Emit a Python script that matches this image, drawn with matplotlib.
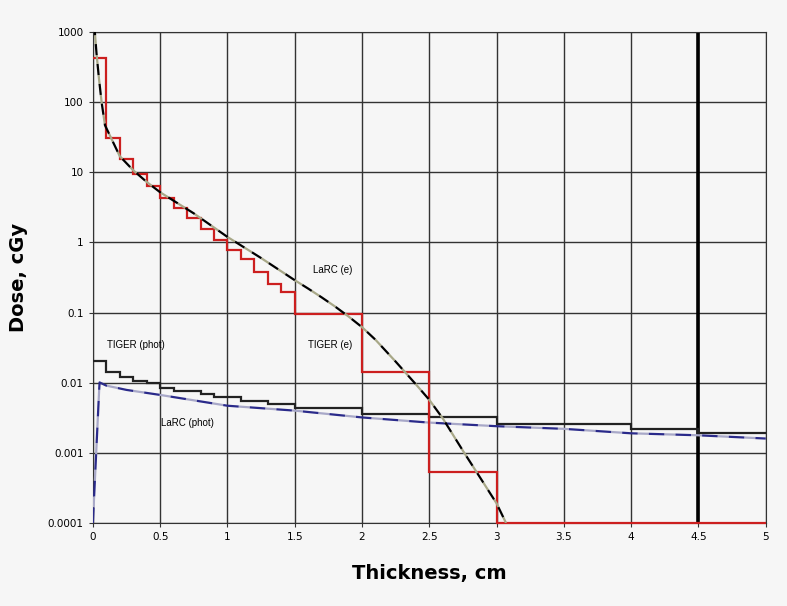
import numpy as np
import matplotlib
matplotlib.use("Agg")
import matplotlib.pyplot as plt
from matplotlib.ticker import FixedLocator, FixedFormatter

# TIGER (e) histogram: bin edges and dose per bin
tiger_e_edges = [0.0, 0.1, 0.2, 0.3, 0.4, 0.5, 0.6, 0.7, 0.8, 0.9, 1.0,
                 1.1, 1.2, 1.3, 1.4, 1.5, 2.0, 2.5, 3.0, 5.0]
tiger_e_dose = [430, 31, 15.5, 9.6, 6.3, 4.35, 3.1, 2.2, 1.55, 1.07,
                0.79, 0.59, 0.38, 0.26, 0.2, 0.095, 0.0144, 0.00054, 0.0001]

# TIGER (phot) histogram
tiger_p_edges = [0.0, 0.1, 0.2, 0.3, 0.4, 0.5, 0.6, 0.8, 0.9, 1.1, 1.3,
                 1.5, 2.0, 2.5, 3.0, 4.0, 4.5, 5.0]
tiger_p_dose = [0.0205, 0.0144, 0.0122, 0.0107, 0.0098, 0.0083, 0.0075,
                0.0069, 0.0062, 0.0055, 0.0049, 0.0043, 0.0036, 0.0032,
                0.0026, 0.0022, 0.0019]

# LaRC (e) curve
larc_e_x = [0.01, 0.027, 0.045, 0.065, 0.09, 0.2, 0.3, 0.4, 0.5, 0.75,
            1.0, 1.25, 1.5, 1.6, 1.7, 1.8, 1.9, 2.0, 2.1, 2.25, 2.4, 2.5,
            2.6, 2.75, 2.9, 3.0, 3.07]
larc_e_y = [1300, 500, 220, 100, 47, 17, 10.7, 7.3, 5.2, 2.6,
            1.2, 0.6, 0.29, 0.22, 0.165, 0.122, 0.088, 0.062, 0.041, 0.02,
            0.0095, 0.0057, 0.0031, 0.00107, 0.00038, 0.00019, 0.0001]

# LaRC (phot) curve
larc_p_x = [0.0, 0.047, 0.05, 0.1, 0.25, 0.5, 1.0, 1.5, 2.0, 2.5, 3.0,
            3.5, 4.0, 4.5, 5.0]
larc_p_y = [0.0001, 0.0081, 0.0101, 0.0091, 0.0079, 0.0067, 0.0047, 0.0040,
            0.0032, 0.0027, 0.0024, 0.0022, 0.0019, 0.00178, 0.0016]

bg = "#f6f6f6"
fig = plt.figure(figsize=(7.87, 6.06), dpi=100, facecolor=bg)
ax = fig.add_axes([0.118, 0.137, 0.855, 0.810], facecolor=bg)
plt.rcParams['font.family'] = ['Liberation Sans', 'DejaVu Sans']

ax.set_yscale('log')
ax.set_xlim(0, 5)
ax.set_ylim(1e-4, 1e3)

# grid
for xv in np.arange(0, 5.01, 0.5):
    ax.axvline(xv, color='#333333', lw=1.0, zorder=1)
for yv in [1e-4, 1e-3, 1e-2, 1e-1, 1, 10, 100, 1000]:
    ax.axhline(yv, color='#333333', lw=1.0, zorder=1)
ax.axvline(4.5, color='black', lw=2.6, zorder=1)

# data
ax.stairs(tiger_e_dose, tiger_e_edges, color='#cc1f1f', lw=1.6, zorder=4,
          baseline=None, clip_on=False)
ax.stairs(tiger_p_dose, tiger_p_edges, color='#222222', lw=1.6, zorder=3,
          baseline=None)
ax.plot(larc_e_x, larc_e_y, color='black', lw=1.6, ls=(0, (5, 4)),
        gapcolor='#a8a888', zorder=5)
ax.plot(larc_p_x, larc_p_y, color='#2a2a8a', lw=1.6, ls=(0, (7, 5)),
        gapcolor='#a8a8c8', zorder=3)

# labels on curves
ax.text(1.78, 0.40, 'LaRC (e)', fontsize=7, ha='center', va='center')
ax.text(1.76, 0.034, 'TIGER (e)', fontsize=7, ha='center', va='center')
ax.text(0.32, 0.034, 'TIGER (phot)', fontsize=7, ha='center', va='center')
ax.text(0.70, 0.0027, 'LaRC (phot)', fontsize=7, ha='center', va='center')

ax.xaxis.set_major_locator(FixedLocator(np.arange(0, 5.01, 0.5)))
ax.xaxis.set_major_formatter(FixedFormatter(['0', '0.5', '1', '1.5', '2', '2.5',
                                             '3', '3.5', '4', '4.5', '5']))
ax.yaxis.set_major_locator(FixedLocator([1e-4, 1e-3, 1e-2, 1e-1, 1, 10, 100, 1000]))
ax.yaxis.set_major_formatter(FixedFormatter(['0.0001', '0.001', '0.01', '0.1',
                                             '1', '10', '100', '1000']))
ax.yaxis.set_minor_locator(FixedLocator([]))
ax.tick_params(axis='both', labelsize=7.5, length=3, color='#333333')
for s in ax.spines.values():
    s.set_color('#333333')

ax.set_xlabel('Thickness, cm', fontsize=14, fontweight='bold', labelpad=16)
ax.set_ylabel('Dose, cGy', fontsize=14, fontweight='bold', labelpad=14)

fig.savefig('out.png', dpi=100, facecolor=bg)
